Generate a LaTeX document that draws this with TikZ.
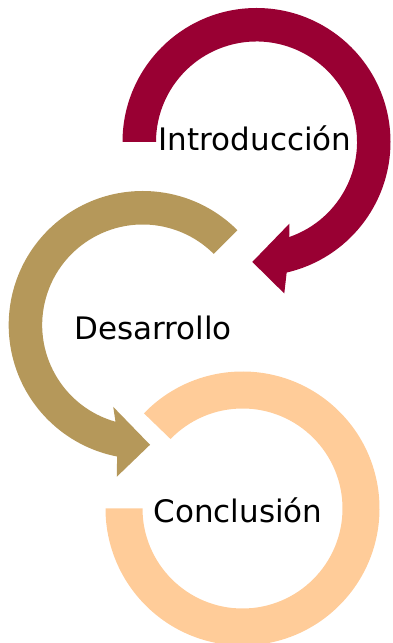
\documentclass[tikz,border=0pt]{standalone}
\usepackage{fontspec}
\setmainfont{DejaVu Sans}
\definecolor{maroon}{HTML}{990033}
\definecolor{gold}{HTML}{B5985A}
\definecolor{peach}{HTML}{FFCC99}
\tikzset{
  lbl/.style={inner sep=0pt, anchor=base, font=\fontsize{31}{36}\selectfont, text=black},
  band/.style={draw=none}
}
\begin{document}
\begin{tikzpicture}[x=1pt,y=1pt]
\useasboundingbox (0,0) rectangle (392,643);
\begin{scope}
\clip (0,0) rectangle (392,643);
% Circle 1 (maroon), clockwise from 180 with arrowhead
\begin{scope}[shift={(256.5,501)}]
\fill[maroon] (180:134pt) arc[start angle=180, end angle=-77, radius=134pt]
  -- (-79.6:154pt) -- (-92:120pt) -- (-68:88pt) -- (-71:100.5pt)
  arc[start angle=-71, end angle=180, radius=100.5pt] -- cycle;
\end{scope}
% Circle 2 (gold), counterclockwise from 45 with arrowhead
\begin{scope}[shift={(142.7,318)}]
\fill[gold] (45:134pt) arc[start angle=45, end angle=259, radius=134pt]
  -- (260.3:154pt) -- (273.5:120pt) -- (250.2:87pt) -- (254.3:100.5pt)
  arc[start angle=254.3, end angle=45, radius=100.5pt] -- cycle;
\end{scope}
% Circle 3 (peach), clockwise from 136 to 180, no arrowhead
\begin{scope}[shift={(242.5,134.5)}]
\fill[peach] (136:137pt) arc[start angle=136, end angle=-180, radius=137pt]
  -- (-180:100pt) arc[start angle=-180, end angle=136, radius=100pt] -- cycle;
\end{scope}
\end{scope}
\node[lbl] (intro) at (255,492.5) {Introducción};
\node[lbl] (desa) at (153,303.7) {Desarrollo};
\node[lbl] (concl) at (238,120) {Conclusión};
\end{tikzpicture}
\end{document}
